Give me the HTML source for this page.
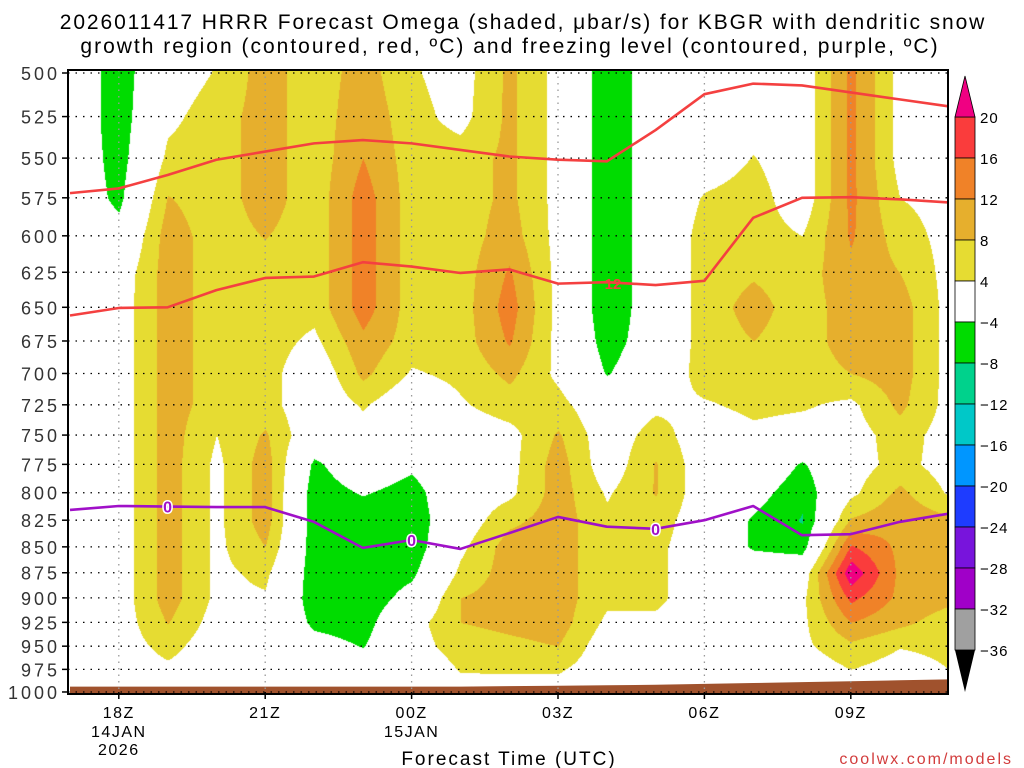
<!DOCTYPE html>
<html><head><meta charset="utf-8">
<style>
body{margin:0;background:#fff;width:1024px;height:768px;overflow:hidden;font-family:"Liberation Sans",sans-serif}
#wrap{position:relative;width:1024px;height:768px}
canvas,svg{position:absolute;left:0;top:0}
</style></head>
<body>
<div id="wrap">
<canvas id="field" width="1024" height="768"></canvas>
<svg id="svg" width="1024" height="768"></svg>
</div>
<script>
const hours=["17Z","18Z","19Z","20Z","21Z","22Z","23Z","00Z","01Z","02Z","03Z","04Z","05Z","06Z","07Z","08Z","09Z","10Z","11Z"];
const levels=[500,525,550,575,600,625,650,675,700,725,750,775,800,825,850,875,900,925,950,975,1000];
const tickHours=[1,4,7,10,13,16];
const tickLabels=["18Z","21Z","00Z","03Z","06Z","09Z"];
const omega=[
[0,0,0,0,0,0,0,0,0,0,0,0,0,0,0,0,0,0,0,0,0],
[-6.5,-6.5,-6,-5.2,-2,1,1.5,1.5,1.5,1.5,1.5,1.5,1.5,1.5,1.5,1.5,1.5,1.5,1.5,1,0],
[1.5,3,5,8.2,10,10,10,10,10,10,10,10,10,10,10,10,10,8.2,5.5,3,1],
[4.3,6,6,6,6,6,6,6,6,6,4,3,3,3,3,3,3,2,1,1,0],
[10,10,10,10,8.2,6,6,6,6,6,8.5,10,10,10,8,5,3.5,2,1,1,0],
[5.5,5.5,5.5,5.5,5.5,5.5,5.5,3,0,0,0,-5,-6.5,-6.5,-6.5,-6.5,-6.5,-5,-2,0,0],
[10,11,12,14,14,14,14,11,9,4.5,2,0,-3.6,-7,-7,-7,-7,-6,-4.2,0,0],
[4.5,5.5,6,6,6,6,6,6,3.5,0,0,-3,-6,-7,-7,-5,-2,2,2,0,0],
[2,2.5,6,6,6,6,6,6,5,3.5,1,1,1,1,3,5,8,8,6,4.3,2],
[9,9,9,9,10,12.5,14,12.5,9,6,2.5,2.5,3,7,10,10,10,9,7,4.5,2],
[2.5,2.5,2.5,2.5,2.5,2.5,2.5,2.5,3,5.5,8.5,10,10,10,10,10,10,10,8,4.5,2],
[-7,-7,-7,-7,-7,-7,-7,-6,-4.3,0,1,1,3.5,5,5,5,5,3,1,1,0],
[-1,-1,-1,-1,-1,-1,-1,-1,0,3,6,8.3,8.3,6,5,5,5,3,1,1,0],
[1,1,1,4.5,6,6,6,6,6,3.5,1,1,1,1,1,1,1,1,1,1,0],
[2,2,4.2,6,6,7.5,9.5,8,6,5,3,1,-2,-4.6,-4.6,0.5,1,1,1,1,0],
[1,1,1,1,4,6,6,6,6,4.5,2,-4.6,-7,-8.3,-6,1,3,3,3,1,0],
[13,13,13,13,12.5,11,10,10,8,3,2,2,3,8.5,16.5,23,17,12,7,4,1],
[2.5,2.5,2.5,4,6,8,10,10,10,9,6,5.5,9,11,11,11,11,9,4.2,2,1],
[2.5,2.5,2.5,2.5,2.5,2.5,2.5,2.5,2.5,2.5,2,2,3.5,9,9,9,9,6,5,4,1]
];
const isoUpper=[572,569,560.5,551,546,541,539,541,545,549,551,552,533,512,506,507,511,515,519];
const isoLower=[656,650.5,650,637.6,629,628,618,621,625.5,623,633,632,634,631,588,575,574.6,576,578];
const freezing=[815.6,812,812.5,813,813,826.6,851,843.5,852,837,822,831,833,825,812,839,838,826.6,819];
const surface=[994,994,994,994,994,994,994,994,994,993.5,993,992.5,992,991,990,989,988,987,986];
const cbLevels=[20,16,12,8,4,-4,-8,-12,-16,-20,-24,-28,-32,-36];
const cbColors=["#fa3c3c","#f08228","#e6af2d","#e6dc32","#ffffff","#00dc00","#00d28c","#00c8c8","#0096ff","#1e3cff","#7814dc","#a000c8","#a0a0a0"];

const X0=70,PXH=48.8,Y0=73,PXL=893;
function xOf(h){return X0+h*PXH;}
function yOf(p){return Y0+PXL*Math.log(p/500);}
function pOf(y){return 500*Math.exp((y-Y0)/PXL);}
function colorFor(v){
 if(v>=20)return[240,0,130];if(v>=16)return[250,60,60];if(v>=12)return[240,130,40];
 if(v>=8)return[230,175,45];if(v>=4)return[230,220,50];if(v>-4)return[255,255,255];
 if(v>-8)return[0,220,0];if(v>-12)return[0,210,140];return[0,200,200];}
const cv=document.getElementById('field'),ctx=cv.getContext('2d');
const img=ctx.createImageData(1024,768);
for(let y=70;y<693;y++){
 const p=pOf(y);let li=(p-500)/25;li=Math.max(0,Math.min(levels.length-1.0001,li));
 const l0=Math.floor(li),fl=li-l0;
 for(let x=68;x<949;x++){
  let hi=(x-X0)/PXH;hi=Math.max(0,Math.min(hours.length-1.0001,hi));
  const h0=Math.floor(hi),fh=hi-h0;
  const a=omega[h0][l0],b=omega[h0+1][l0],c=omega[h0][l0+1],d=omega[h0+1][l0+1];
  const v=(a*(1-fh)+b*fh)*(1-fl)+(c*(1-fh)+d*fh)*fl;
  const col=colorFor(v);const i=(y*1024+x)*4;
  img.data[i]=col[0];img.data[i+1]=col[1];img.data[i+2]=col[2];img.data[i+3]=255;}}
ctx.putImageData(img,0,0);

const svg=document.getElementById('svg');const NS="http://www.w3.org/2000/svg";
function el(tag,attrs,parent){const e=document.createElementNS(NS,tag);for(const k in attrs)e.setAttribute(k,attrs[k]);(parent||svg).appendChild(e);return e;}
function txt(s,attrs){const t=el('text',attrs);t.textContent=s;return t;}

let gp="M"+xOf(0)+",694 ";surface.forEach((s,i)=>{gp+="L"+xOf(i)+","+yOf(s)+" ";});gp+="L"+xOf(hours.length-1)+",694 Z";
const ground=el('path',{d:gp,fill:"#a0522d"});



levels.forEach(p=>{const g=el('line',{x1:68,x2:948,y1:yOf(p),y2:yOf(p),stroke:"#000","stroke-width":1.3,"stroke-dasharray":"1.5,6"});


const t=el('line',{x1:62,x2:68,y1:yOf(p),y2:yOf(p),stroke:"#000","stroke-width":1.5});


const lb=txt(String(p),{x:60,y:yOf(p)+7,"text-anchor":"end","font-size":18,fill:"#333","letter-spacing":"3"});

});
tickHours.forEach((h,i)=>{const g=el('line',{x1:xOf(h),x2:xOf(h),y1:70,y2:692,stroke:"#999","stroke-width":1.3,"stroke-dasharray":"1.5,5"});


const t=el('line',{x1:xOf(h),x2:xOf(h),y1:692,y2:699,stroke:"#000","stroke-width":1.5});


const lb=txt(tickLabels[i],{x:xOf(h),y:718,"text-anchor":"middle","font-size":16,fill:"#000","letter-spacing":"1.5"});

});
[[1,"14JAN",737],[1,"2026",755],[7,"15JAN",737]].forEach(a=>{const lb=txt(a[1],{x:xOf(a[0]),y:a[2],"text-anchor":"middle","font-size":16,fill:"#000","letter-spacing":"1.5"});

});

function line(arr,color,name){const d=arr.map((p,i)=>(i?"L":"M")+xOf(i)+","+yOf(p)).join(" ");
const e=el('path',{d:d,fill:"none",stroke:color,"stroke-width":2.6,"stroke-linejoin":"round"});

}
line(isoUpper,"#f44040","dgz-isotherm-upper");
line(isoLower,"#f44040","dgz-isotherm-lower");
line(freezing,"#a010c8","freezing-level-line");
function clabel(h,arr,s,color,name){const y=yOf(arr[h]);
const t=txt(s,{x:xOf(h),y:y+6,"text-anchor":"middle","font-size":16,"font-weight":"bold",fill:color,stroke:"#fff","stroke-width":3,"paint-order":"stroke"});

}
clabel(2,freezing,"0","#a010c8","freezing-label");
clabel(7,freezing,"0","#a010c8","freezing-label");
clabel(12,freezing,"0","#a010c8","freezing-label");
const l12=txt("12",{x:613,y:289,"text-anchor":"middle","font-size":15,"font-weight":"bold",fill:"#f44040"});



const fr=el('rect',{x:68,y:70,width:880,height:624,fill:"none",stroke:"#000","stroke-width":2});



const cbx=955,cbw=20,cbTop=117,seg=41;
cbColors.forEach((c,i)=>{const r=el('rect',{x:cbx,y:cbTop+i*seg,width:cbw,height:seg,fill:c,stroke:"#000","stroke-width":0.8});

});
const tri1=el('polygon',{points:`${cbx},${cbTop} ${cbx+cbw},${cbTop} ${cbx+cbw/2},76`,fill:"#f00082",stroke:"#000","stroke-width":0.8});


const cbBot=cbTop+cbColors.length*seg;
const tri2=el('polygon',{points:`${cbx},${cbBot} ${cbx+cbw},${cbBot} ${cbx+cbw/2},692`,fill:"#000"});


cbLevels.forEach((v,i)=>{const t=txt(v<0?"\u2212"+(-v):String(v),{x:980,y:cbTop+i*seg+6,"font-size":15,fill:"#000","letter-spacing":"1"});

});

const t1=txt("2026011417 HRRR Forecast Omega (shaded, \u03BCbar/s) for KBGR with dendritic snow",{x:523,y:29,"text-anchor":"middle","font-size":21,fill:"#000","letter-spacing":"1.9"});


const t2=txt("growth region (contoured, red, \u00BAC) and freezing level (contoured, purple, \u00BAC)",{x:510,y:53,"text-anchor":"middle","font-size":21,fill:"#000","letter-spacing":"2"});


const xt=txt("Forecast Time (UTC)",{x:509,y:765,"text-anchor":"middle","font-size":19,fill:"#000","letter-spacing":"2"});


const cr=txt("coolwx.com/models",{x:1013,y:764,"text-anchor":"end","font-size":16,fill:"#d23c3c","letter-spacing":"2"});


</script>
</body></html>
